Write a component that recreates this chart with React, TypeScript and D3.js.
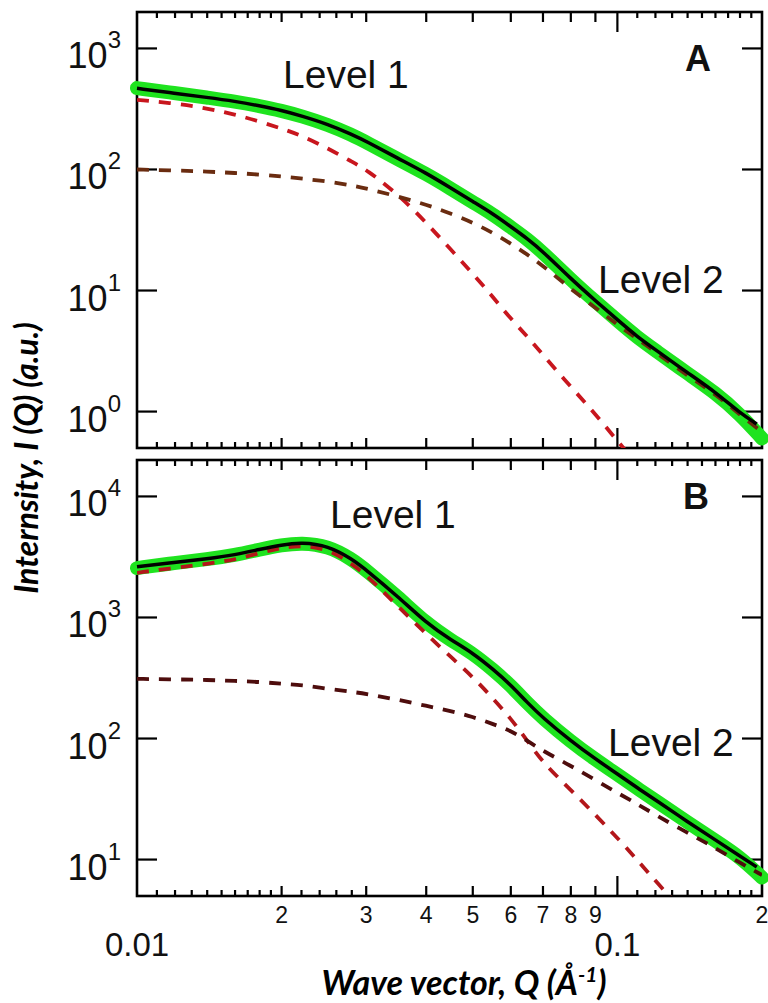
import React from "react";
import * as d3 from "d3";

// ---------- shared wave-vector axis ----------
const Q_DOMAIN: [number, number] = [0.01, 0.2];
const X_MINOR_TICKS = [
  0.011, 0.012, 0.013, 0.014, 0.015, 0.016, 0.017, 0.018, 0.019,
  0.022, 0.024, 0.026, 0.028,
  0.11, 0.12, 0.13, 0.14, 0.15, 0.16, 0.17, 0.18, 0.19,
];
const X_MEDIUM_TICKS = [0.02, 0.03, 0.04, 0.05, 0.06, 0.07, 0.08, 0.09];
const X_MAJOR_TICKS = [0.1];
const X_DIGIT_LABELS = [
  { q: 0.02, text: "2" }, { q: 0.03, text: "3" }, { q: 0.04, text: "4" },
  { q: 0.05, text: "5" }, { q: 0.06, text: "6" }, { q: 0.07, text: "7" },
  { q: 0.08, text: "8" }, { q: 0.09, text: "9" }, { q: 0.2, text: "2" },
];
const X_DECADE_LABELS = [{ q: 0.01, text: "0.01" }, { q: 0.1, text: "0.1" }];

// Q sampling of the measured data and the model components
const Q_GRID = [
  0.010, 0.012, 0.014, 0.016, 0.018, 0.020, 0.022, 0.025, 0.028, 0.030,
  0.035, 0.040, 0.045, 0.050, 0.055, 0.060, 0.065, 0.070, 0.080, 0.090,
  0.100, 0.110, 0.120, 0.140, 0.160, 0.180, 0.200,
];
const Q_FIT = [
  0.010, 0.012, 0.014, 0.016, 0.018, 0.020, 0.022, 0.025, 0.028, 0.030,
  0.035, 0.040, 0.045, 0.050, 0.055, 0.060, 0.065, 0.070, 0.080, 0.090,
  0.100, 0.110, 0.120, 0.140, 0.160, 0.180, 0.195,
];

// ---------- panel A ----------
const A_DATA = [
  470, 428, 392, 364, 334, 306, 276, 234, 193, 168,
  121, 92, 69.5, 53.6, 42.8, 33.3, 26.5, 20.6, 12.3, 8.1,
  5.65, 4.1, 3.2, 2.06, 1.43, 0.95, 0.6,
];
const A_FIT = [
  468, 426, 394, 366, 336, 308, 277, 236, 195, 171,
  123, 93.5, 70.3, 54.3, 43.2, 33.7, 26.8, 21.0, 12.5, 8.24,
  5.73, 4.15, 3.24, 2.09, 1.45, 0.97, 0.79,
];
const A_LEVEL1 = [
  376, 352, 320, 285, 249, 218, 191, 149, 116, 100,
  62.1, 36.4, 21.8, 13.8, 8.89, 5.84, 4.15, 2.94, 1.60, 0.955,
  0.571, 0.368, 0.242,
];
const A_LEVEL2 = [
  100, 98.1, 96.2, 93.5, 90.9, 87.5, 84.2, 79.6, 73.8, 69.7,
  59.8, 51.3, 43.2, 36.4, 30.1, 24.4, 19.8, 16.0, 10.3, 7.2,
  5.21, 3.99, 3.11, 1.97, 1.40, 0.94, 0.68,
];

// ---------- panel B ----------
const B_DATA = [
  2560, 2830, 3030, 3280, 3640, 3960, 4150, 3890, 3040, 2460,
  1470, 895, 650, 505, 372, 274, 195, 147, 94.5, 67.0,
  50.4, 38.7, 30.8, 20.3, 14.3, 10.5, 7.1,
];
const B_FIT = [
  2620, 2853, 3050, 3290, 3655, 3981, 4177, 3909, 3050, 2474,
  1480, 902, 653, 509, 376, 277, 197, 148, 95.5, 67.8,
  51.0, 39.1, 31.1, 20.5, 14.5, 10.7, 8.69,
];
const B_LEVEL1 = [
  2339, 2573, 2775, 2993, 3420, 3762, 3944, 3690, 2775, 2250,
  1225, 731, 472, 323, 216, 146, 95.7, 63.0, 37.6, 23.4,
  15.1, 9.93, 6.65, 3.42,
];
const B_LEVEL2 = [
  311, 308, 305, 299, 294, 283, 277, 257, 243, 234,
  209, 186, 169, 151, 132, 116, 95.5, 79.0, 59.4, 45.5,
  35.5, 28.8, 23.4, 16.6, 12.5, 9.37, 7.46,
];

const A_DECADES = [0, 1, 2, 3];
const B_DECADES = [1, 2, 3, 4];

// ---------- layout ----------
const WIDTH = 768;
const HEIGHT = 1003;
const LEFT = 137;
const RIGHT = 762;

const LABEL_FONT = '"Liberation Sans", Arial, Helvetica, sans-serif';
const TITLE_FONT = 'Lato, "Open Sans", sans-serif';
const GREEN = "#1fe31f";

type Panel = {
  id: string;
  top: number;
  bottom: number;
  yDomain: [number, number];
  decades: number[];
  data: number[];
  fit: number[];
  level1: number[];
  level2: number[];
  red: string;
  brown: string;
  level1Pos: [number, number];
  level2Pos: [number, number];
  letterPos: [number, number];
};

const PANELS: Panel[] = [
  {
    id: "A", top: 12, bottom: 448, yDomain: [0.5, 2000], decades: A_DECADES,
    data: A_DATA, fit: A_FIT, level1: A_LEVEL1, level2: A_LEVEL2,
    red: "#c8161e", brown: "#6a2c10",
    level1Pos: [283, 88], level2Pos: [598, 293], letterPos: [698, 71],
  },
  {
    id: "B", top: 460, bottom: 896, yDomain: [5, 20000], decades: B_DECADES,
    data: B_DATA, fit: B_FIT, level1: B_LEVEL1, level2: B_LEVEL2,
    red: "#b3161a", brown: "#4e0d0d",
    level1Pos: [330, 528], level2Pos: [608, 756], letterPos: [696, 509],
  },
];

const x = d3.scaleLog().domain(Q_DOMAIN).range([LEFT, RIGHT]);

function PanelView({ p }: { p: Panel }) {
  const y = d3.scaleLog().domain(p.yDomain).range([p.bottom, p.top]);
  const line = (qs: number[]) =>
    d3
      .line<number>()
      .x((_, i) => x(qs[i]))
      .y((v) => y(v))
      .curve(d3.curveBasis);

  const clipId = `clip-${p.id}`;
  const xTickGroups: [number[], number][] = [
    [X_MINOR_TICKS, 6],
    [X_MEDIUM_TICKS, 10],
    [X_MAJOR_TICKS, 20],
  ];

  return (
    <g>
      <defs>
        <clipPath id={clipId}>
          <rect x={LEFT} y={p.top} width={RIGHT - LEFT} height={p.bottom - p.top} />
        </clipPath>
      </defs>

      {/* inward ticks on all four sides */}
      <g stroke="#000" strokeWidth={2.2}>
        {xTickGroups.map(([vals, len], gi) =>
          vals.map((q) => (
            <g key={`${gi}-${q}`}>
              <line x1={x(q)} x2={x(q)} y1={p.top} y2={p.top + len} />
              <line x1={x(q)} x2={x(q)} y1={p.bottom} y2={p.bottom - len} />
            </g>
          ))
        )}
        {p.decades.map((d) => (
          <g key={d}>
            <line x1={LEFT} x2={LEFT + 20} y1={y(10 ** d)} y2={y(10 ** d)} />
            <line x1={RIGHT} x2={RIGHT - 20} y1={y(10 ** d)} y2={y(10 ** d)} />
          </g>
        ))}
      </g>
      <rect
        x={LEFT} y={p.top} width={RIGHT - LEFT} height={p.bottom - p.top}
        fill="none" stroke="#000" strokeWidth={2.6}
      />

      {/* decade labels */}
      <g fontFamily={LABEL_FONT} fill="#111">
        {p.decades.map((d) => (
          <text key={d} x={121} y={y(10 ** d) + 20} fontSize={36} textAnchor="end">
            10
            <tspan dy={-20} fontSize={24}>{d}</tspan>
          </text>
        ))}
      </g>

      {/* measured data */}
      <path
        d={line(Q_GRID)(p.data) || ""}
        fill="none" stroke={GREEN} strokeWidth={14}
        strokeLinecap="round" strokeLinejoin="round"
      />
      {/* model components */}
      <g clipPath={`url(#${clipId})`} fill="none" strokeWidth={3.8} strokeDasharray="12 10">
        <path d={line(Q_GRID)(p.level1) || ""} stroke={p.red} />
        <path d={line(Q_GRID)(p.level2) || ""} stroke={p.brown} />
      </g>
      {/* total fit */}
      <path d={line(Q_FIT)(p.fit) || ""} fill="none" stroke="#000" strokeWidth={3.5} />

      <g fontFamily={LABEL_FONT} fill="#111" fontSize={39}>
        <text x={p.level1Pos[0]} y={p.level1Pos[1]}>Level 1</text>
        <text x={p.level2Pos[0]} y={p.level2Pos[1]}>Level 2</text>
      </g>
      <text
        x={p.letterPos[0]} y={p.letterPos[1]} textAnchor="middle"
        fontFamily={LABEL_FONT} fontWeight={700} fontSize={36} fill="#111"
      >
        {p.id}
      </text>
    </g>
  );
}

export default function App() {
  const lower = PANELS[1];
  return (
    <svg
      width={WIDTH}
      height={HEIGHT}
      viewBox={`0 0 ${WIDTH} ${HEIGHT}`}
      style={{ position: "absolute", left: 0, top: 0, background: "#fff" }}
    >
      <rect width={WIDTH} height={HEIGHT} fill="#fff" />
      {PANELS.map((p) => (
        <PanelView key={p.id} p={p} />
      ))}

      {/* wave-vector tick labels under the lower panel */}
      <g fontFamily={LABEL_FONT} fill="#111" textAnchor="middle">
        {X_DIGIT_LABELS.map((l, i) => (
          <text key={i} x={x(l.q)} y={lower.bottom + 27} fontSize={23}>
            {l.text}
          </text>
        ))}
        {X_DECADE_LABELS.map((l, i) => (
          <text key={i} x={x(l.q)} y={lower.bottom + 60} fontSize={33}>
            {l.text}
          </text>
        ))}
      </g>

      {/* axis titles */}
      <text
        x={464} y={995} textAnchor="middle"
        fontFamily={TITLE_FONT} fontWeight={700} fontStyle="italic" fontSize={34} fill="#000"
      >
        Wave vector, Q (Å<tspan dy={-13} fontSize={21}>-1</tspan>
        <tspan dy={13}>)</tspan>
      </text>
      <text
        transform="translate(38,458) rotate(-90)" textAnchor="middle"
        fontFamily={TITLE_FONT} fontWeight={700} fontStyle="italic" fontSize={32} fill="#000"
      >
        Internsity, I (Q) (a.u.)
      </text>
    </svg>
  );
}
